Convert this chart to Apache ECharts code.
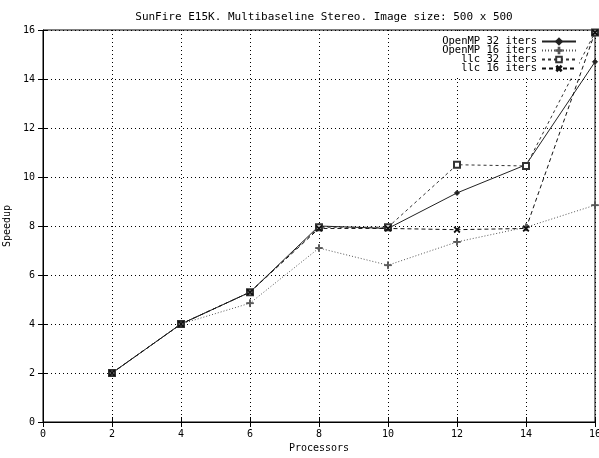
<!DOCTYPE html>
<html><head><meta charset="utf-8">
<script src="https://cdn.jsdelivr.net/npm/echarts@6/dist/echarts.min.js"></script>
<style>html,body{margin:0;padding:0;background:#fff}#c{width:599px;height:458px}</style>
</head><body><div id="c"></div>
<script>
const processors = [2, 4, 6, 8, 10, 12, 14, 16];
const openmp32 = [2, 4, 5.3, 8.0, 7.9, 9.35, 10.5, 14.7];
const openmp16 = [2, 4, 4.85, 7.1, 6.4, 7.35, 7.95, 8.85];
const llc32 = [2, 4, 5.3, 7.95, 7.95, 10.5, 10.45, 15.9];
const llc16 = [2, 4, 5.3, 7.9, 7.9, 7.85, 7.9, 15.9];
const seriesNames = ['OpenMP 32 iters', 'OpenMP 16 iters', 'llc 32 iters', 'llc 16 iters'];
const titleText = 'SunFire E15K. Multibaseline Stereo. Image size: 500 x 500';

const FONT = 'DejaVu Sans Mono';
const plusPath = 'path://M4.4,0h1.2v4.4h4.4v1.2h-4.4v4.4h-1.2v-4.4h-4.4v-1.2h4.4z';
const pair = ys => processors.map((x, i) => [x, ys[i]]);

function mk(name, ys, color, lineType, symbol, size, rot) {
  return {
    name, type: 'line', data: pair(ys), color,
    symbol, symbolSize: size, symbolRotate: rot || 0, showAllSymbol: true,
    lineStyle: { color, width: 1, type: lineType },
    itemStyle: { color, borderColor: color, borderWidth: 1 },
    emphasis: { disabled: true }, animation: false
  };
}

const chart = echarts.init(document.getElementById('c'));
chart.setOption({
  backgroundColor: '#fff',
  animation: false,
  title: { text: titleText, left: 319, top: 7, textAlign: 'center',
    textStyle: { fontFamily: FONT, fontSize: 11, fontWeight: 'normal', color: '#000' } },
  legend: {
    orient: 'vertical', right: 20, top: 34, align: 'right', itemGap: -2,
    itemWidth: 34, itemHeight: 7, padding: 2, backgroundColor: '#fff',
    textStyle: { fontFamily: FONT, fontSize: 10.5, lineHeight: 8, color: '#000', padding: [0, 0, 0, 0] },
    data: seriesNames
  },
  grid: { left: 43, right: 4, top: 30, bottom: 36, show: true, borderColor: '#000', borderWidth: 1,
    containLabel: false, outerBoundsMode: 'none' },
  xAxis: [{
    type: 'value', min: 0, max: 16, interval: 2,
    name: 'Processors', nameLocation: 'middle', nameGap: 20,
    nameTextStyle: { fontFamily: FONT, fontSize: 10, color: '#000' },
    axisLine: { lineStyle: { color: '#000' } },
    axisTick: { inside: true, length: 5, lineStyle: { color: '#000' } },
    axisLabel: { fontFamily: FONT, fontSize: 10, color: '#000', margin: 7 },
    splitLine: { show: true, lineStyle: { color: '#000', type: [1, 3] } }
  }, {
    type: 'value', min: 0, max: 16, interval: 2, position: 'top',
    axisLine: { show: false }, axisLabel: { show: false },
    axisTick: { inside: true, length: 5, lineStyle: { color: '#000' } },
    splitLine: { show: false }
  }],
  yAxis: [{
    type: 'value', min: 0, max: 16, interval: 2,
    name: 'Speedup', nameLocation: 'middle', nameGap: 28, nameRotate: 90,
    nameTextStyle: { fontFamily: FONT, fontSize: 10, color: '#000' },
    axisLine: { show: true, lineStyle: { color: '#000' } },
    axisTick: { inside: true, length: 5, lineStyle: { color: '#000' } },
    axisLabel: { fontFamily: FONT, fontSize: 10, color: '#000', margin: 8 },
    splitLine: { show: true, lineStyle: { color: '#000', type: [1, 3] } }
  }, {
    type: 'value', min: 0, max: 16, interval: 2, position: 'right',
    axisLine: { show: false }, axisLabel: { show: false },
    axisTick: { show: true, inside: true, length: 5, lineStyle: { color: '#000' } },
    splitLine: { show: false }
  }],
  series: [
    mk(seriesNames[0], openmp32, '#222', 'solid', 'diamond', 5),
    mk(seriesNames[1], openmp16, '#555', [1, 2], plusPath, 7),
    mk(seriesNames[2], llc32, '#333', [3, 3], 'emptyRect', 6),
    mk(seriesNames[3], llc16, '#111', [4, 3], plusPath, 7, 45)
  ]
});
</script></body></html>
